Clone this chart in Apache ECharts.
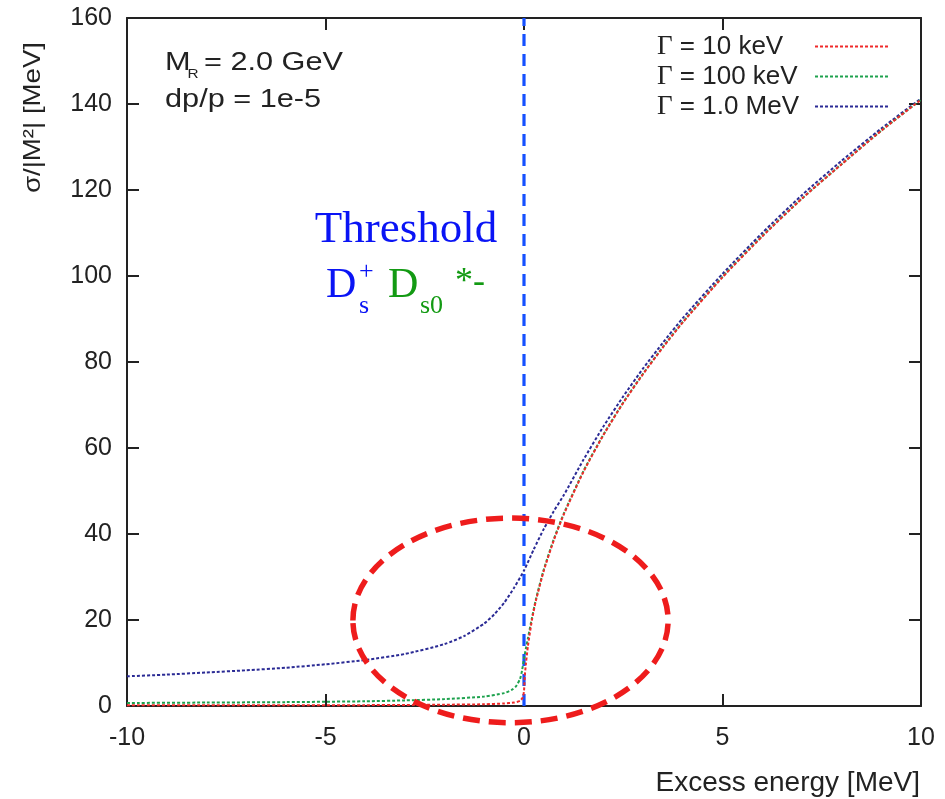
<!DOCTYPE html>
<html><head><meta charset="utf-8">
<script src="https://cdn.jsdelivr.net/npm/echarts@6/dist/echarts.min.js"></script>
<style>html,body{margin:0;padding:0;background:#fff}#c{width:945px;height:799px}</style>
</head><body><div id="c"></div>
<script>
// ---- data ----
const xTickLabels = [-10, -5, 0, 5, 10];
const yTickLabels = [0, 20, 40, 60, 80, 100, 120, 140, 160];
const seriesNames = ['Γ = 10 keV', 'Γ = 100 keV', 'Γ = 1.0 MeV'];

const redX = [-10, -8, -6, -4, -3, -2, -1, -0.5, -0.25, -0.1, -0.03, 0, 0.02, 0.05, 0.1, 0.2, 0.3, 0.5, 0.75, 1, 1.5, 2, 2.5, 3, 3.5, 4, 5, 6, 7, 8, 9, 10];
const redY = [0.15, 0.15, 0.2, 0.2, 0.25, 0.3, 0.4, 0.6, 0.8, 1.2, 2.0, 3.5, 7, 10, 14, 20, 24.5, 31.5, 38.5, 44.5, 54.5, 63, 70.5, 77.2, 83.4, 89.2, 99.7, 109.2, 118, 126, 133.8, 141];

const greenX = [-10, -8, -6, -4, -3, -2, -1, -0.5, -0.3, -0.2, -0.1, -0.05, 0, 0.05, 0.1, 0.2, 0.3, 0.5, 0.75, 1, 1.5, 2, 2.5, 3, 3.5, 4, 5, 6, 7, 8, 9, 10];
const greenY = [0.7, 0.8, 0.9, 1.1, 1.3, 1.6, 2.2, 3.0, 3.8, 4.6, 6.3, 8.2, 11, 13.5, 15.8, 20.5, 24.8, 31.8, 38.8, 44.7, 54.7, 63.1, 70.6, 77.3, 83.5, 89.3, 99.8, 109.3, 118, 126, 133.8, 141];

const blueX = [-10, -9, -8, -7, -6, -5, -4, -3, -2, -1.5, -1, -0.75, -0.5, -0.25, 0, 0.25, 0.5, 0.75, 1, 1.5, 2, 2.5, 3, 3.5, 4, 5, 6, 7, 8, 9, 10];
const blueY = [6.9, 7.3, 7.8, 8.3, 8.9, 9.7, 10.7, 12.1, 14.4, 16.3, 19.2, 21.3, 24.0, 27.5, 31.5, 36.5, 41.2, 45.3, 49, 57.3, 65, 72, 78.5, 84.5, 90.2, 100.5, 110, 118.8, 126.8, 134.3, 141.3];

const thresholdX = [0, 0];
const thresholdY = [0, 160];

// annotation ellipse (data coordinates: centre and radii)
const ellipseCenter = [-0.34, 19.9];
const ellipseRadii = [3.97, 23.8];

function pairs(xs, ys) { return xs.map((x, i) => [x, ys[i]]); }

const chart = echarts.init(document.getElementById('c'), null, {renderer: 'canvas'});
const sans = 'Liberation Sans, Arial, sans-serif';
const serif = 'Liberation Serif, Times New Roman, serif';
const axisLine = {onZero: false, lineStyle: {color: '#222', width: 2}};
const tick = {inside: true, length: 12, lineStyle: {color: '#222', width: 2}};

const option = {
  animation: false,
  backgroundColor: '#fff',
  grid: {left: 127, right: 24, top: 18, bottom: 93, containLabel: false},
  xAxis: [
    {type: 'value', min: -10, max: 10, interval: 5, axisLine: axisLine, axisTick: tick,
     splitLine: {show: false},
     axisLabel: {margin: 20, fontSize: 25, color: '#222', fontFamily: sans,
       formatter: v => xTickLabels.includes(v) ? String(v) : ''}},
    {type: 'value', position: 'top', min: -10, max: 10, interval: 5, axisLine: axisLine, axisTick: tick,
     splitLine: {show: false}, axisLabel: {show: false}}
  ],
  yAxis: [
    {type: 'value', min: 0, max: 160, interval: 20, axisLine: axisLine, axisTick: tick,
     splitLine: {show: false},
     axisLabel: {margin: 15, fontSize: 25, color: '#222', fontFamily: sans,
       formatter: v => yTickLabels.includes(v) ? String(v) : ''}},
    {type: 'value', position: 'right', min: 0, max: 160, interval: 20, axisLine: axisLine, axisTick: tick,
     splitLine: {show: false}, axisLabel: {show: false}}
  ],
  legend: {
    data: seriesNames,
    orient: 'vertical', right: 49, top: 28, align: 'right',
    itemWidth: 75, itemHeight: 10, itemGap: 3,
    itemStyle: {opacity: 0},
    lineStyle: {opacity: 1},
    textStyle: {fontSize: 26, color: '#222', fontFamily: sans, width: 153,
      rich: {g: {fontFamily: serif, fontSize: 27, color: '#222', align: 'left'},
             t: {fontFamily: sans, fontSize: 26, color: '#222', align: 'left'}}},
    formatter: name => '{g|Γ}{t|' + name.slice(1) + '}'
  },
  series: [
    {name: 'threshold', type: 'line', data: pairs(thresholdX, thresholdY), symbol: 'none',
     lineStyle: {color: '#1550ff', width: 3.2, type: [12, 8]}, z: 1, silent: true},
    {name: seriesNames[2], type: 'line', data: pairs(blueX, blueY), symbol: 'none', smooth: 0.2,
     color: '#2b2b95', lineStyle: {color: '#2b2b95', width: 2, type: [3, 2]}, z: 2},
    {name: seriesNames[1], type: 'line', data: pairs(greenX, greenY), symbol: 'none', smooth: 0.2,
     color: '#1ea24e', lineStyle: {color: '#1ea24e', width: 2, type: [3, 2]}, z: 3},
    {name: seriesNames[0], type: 'line', data: pairs(redX, redY), symbol: 'none', smooth: 0.2,
     color: '#f02a2a', lineStyle: {color: '#f02a2a', width: 2, type: [3, 2]}, z: 4}
  ]
};
chart.setOption(option);

const c = chart.convertToPixel({xAxisIndex: 0, yAxisIndex: 0}, ellipseCenter);
const e = chart.convertToPixel({xAxisIndex: 0, yAxisIndex: 0}, [ellipseCenter[0] + ellipseRadii[0], ellipseCenter[1] + ellipseRadii[1]]);
const rx = Math.abs(e[0] - c[0]), ry = Math.abs(e[1] - c[1]);

const blueTxt = '#0a14f5', greenTxt = '#139a13';
chart.setOption({
  graphic: [
    {type: 'ellipse', z: 100, shape: {cx: c[0], cy: c[1], rx: rx, ry: ry},
     style: {fill: null, stroke: '#ee1c1c', lineWidth: 5.5, lineDash: [17, 9]}},
    // top-left annotation
    {type: 'group', x: 165, y: 0, scaleX: 1.18, children: [
      {type: 'text', x: 0, y: 63, style: {text: 'M', fontSize: 26, fontFamily: sans, fill: '#222', verticalAlign: 'middle'}},
      {type: 'text', x: 19, y: 74, style: {text: 'R', fontSize: 13, fontFamily: sans, fill: '#222', verticalAlign: 'middle'}},
      {type: 'text', x: 33, y: 63, style: {text: '= 2.0 GeV', fontSize: 26, fontFamily: sans, fill: '#222', verticalAlign: 'middle'}},
      {type: 'text', x: 0, y: 100, style: {text: 'dp/p = 1e-5', fontSize: 26, fontFamily: sans, fill: '#222', verticalAlign: 'middle'}}
    ]},
    // Threshold label
    {type: 'text', x: 406, y: 230, style: {text: 'Threshold', fontSize: 45, fontFamily: serif, fill: blueTxt, align: 'center', verticalAlign: 'middle'}},
    {type: 'text', x: 326, y: 286, style: {text: 'D', fontSize: 42, fontFamily: serif, fill: blueTxt, verticalAlign: 'middle'}},
    {type: 'text', x: 359, y: 306, style: {text: 's', fontSize: 26, fontFamily: serif, fill: blueTxt, verticalAlign: 'middle'}},
    {type: 'text', x: 359, y: 272, style: {text: '+', fontSize: 26, fontFamily: serif, fill: blueTxt, verticalAlign: 'middle'}},
    {type: 'text', x: 388, y: 286, style: {text: 'D', fontSize: 42, fontFamily: serif, fill: greenTxt, verticalAlign: 'middle'}},
    {type: 'text', x: 420, y: 306, style: {text: 's0', fontSize: 26, fontFamily: serif, fill: greenTxt, verticalAlign: 'middle'}},
    {type: 'text', x: 455, y: 283, style: {text: '*-', fontSize: 36, fontFamily: serif, fill: greenTxt, verticalAlign: 'middle'}},
    // axis titles
    {type: 'text', x: 33, y: 193, rotation: Math.PI / 2, scaleX: 1.15,
     style: {text: 'σ/|M²| [MeV]', fontSize: 24, fontFamily: sans, fill: '#222', align: 'left', verticalAlign: 'middle'}},
    {type: 'text', x: 920, y: 783, style: {text: 'Excess energy [MeV]', fontSize: 28, fontFamily: sans, fill: '#222', align: 'right', verticalAlign: 'middle'}}
  ]
});
</script>
</body></html>
